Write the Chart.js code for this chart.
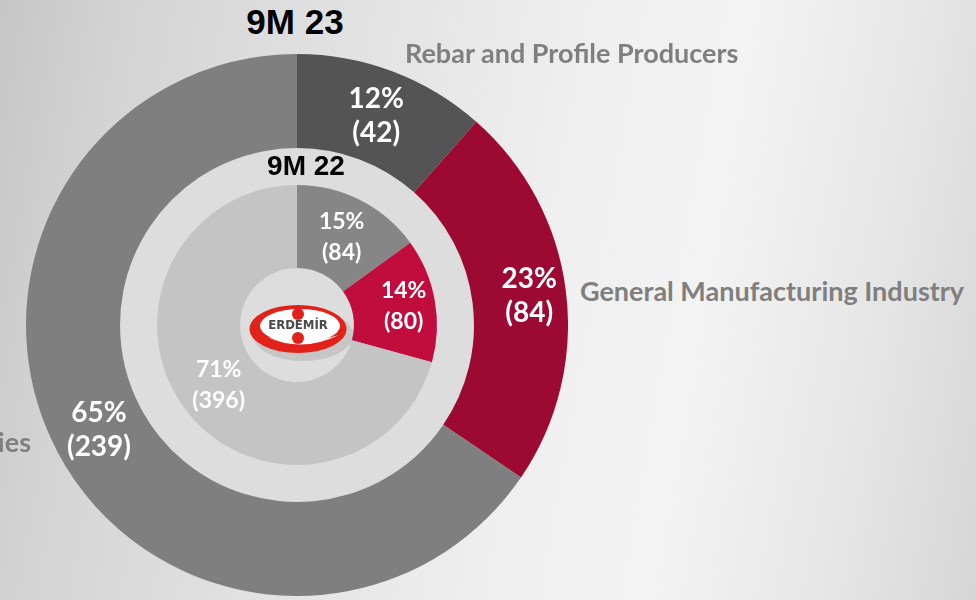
<!DOCTYPE html>
<html>
<head>
<meta charset="utf-8">
<script src="https://cdn.jsdelivr.net/npm/chart.js@4.4.1/dist/chart.umd.min.js"></script>
<style>
  html, body { margin: 0; padding: 0; }
  body {
    width: 976px; height: 600px; overflow: hidden; position: relative;
    background: linear-gradient(100deg, #c6c6c6 0%, #d4d4d4 12%, #e3e3e3 35%, #efefef 55%, #f3f3f3 70%, #e6e6e6 86%, #d6d6d6 100%);
  }
  #wrap { position: absolute; left: 26px; top: 54px; width: 542px; height: 542px; }
  .title { position: absolute; font-family: "Liberation Sans", Arial, sans-serif; font-weight: bold; color: #000; white-space: nowrap; transform: translate(-50%, -50%); }
  .cat { position: absolute; font-family: Lato, "Open Sans", sans-serif; font-weight: bold; color: #7f7f7f; white-space: nowrap; font-size: 27px; transform: translateY(-50%); }
</style>
</head>
<body>
<div id="wrap"><canvas id="c" width="542" height="542"></canvas></div>
<div class="title" style="left:295px; top:22px; font-size:35px;">9M 23</div>
<div class="title" style="left:306px; top:166px; font-size:28px;">9M 22</div>
<div class="cat" style="left:405px; top:52px;" id="cat0"></div>
<div class="cat" style="left:580px; top:290px;" id="cat1"></div>
<div class="cat" style="right:945px; top:441px;" id="cat2"></div>
<script>
// ---- data ----
const categories = ["Rebar and Profile Producers", "General Manufacturing Industry", "Other Industries"];
const values9M23 = [42, 84, 239];
const values9M22 = [84, 80, 396];
const periodLabels = ["9M 23", "9M 22"];

// ---- styles ----
const colors9M23 = ["#545454", "#9c0a33", "#7f7f7f"];
const colors9M22 = ["#868686", "#c00d3e", "#c4c4c4"];
const labelOffsets = [[0, 10, 0], [0, 10, 0]]; // radial nudge of value labels (px)

document.getElementById('cat0').textContent = categories[0];
document.getElementById('cat1').textContent = categories[1];
document.getElementById('cat2').textContent = categories[2];

const bandPlugin = {
  id: 'band',
  beforeDatasetsDraw(chart) {
    const arc = chart.getDatasetMeta(1).data[0];
    if (!arc) return;
    const ctx = chart.ctx;
    ctx.save();
    ctx.fillStyle = '#dddddd';
    ctx.beginPath();
    ctx.arc(arc.x, arc.y, arc.outerRadius, 0, Math.PI * 2);
    ctx.fill();
    ctx.restore();
  }
};

const labelPlugin = {
  id: 'vals',
  afterDatasetsDraw(chart) {
    const ctx = chart.ctx;
    [[0, 0, 28, 34], [2, 1, 23, 31]].forEach(([di, oi, fs, lh]) => {
      const ds = chart.data.datasets[di];
      const total = ds.data.reduce((a, b) => a + b, 0);
      chart.getDatasetMeta(di).data.forEach((arc, i) => {
        const mid = (arc.startAngle + arc.endAngle) / 2;
        const r = (arc.innerRadius + arc.outerRadius) / 2 + labelOffsets[oi][i];
        const x = arc.x + Math.cos(mid) * r;
        const y = arc.y + Math.sin(mid) * r;
        ctx.save();
        ctx.fillStyle = '#ffffff';
        ctx.font = 'bold ' + fs + 'px Lato, "Open Sans", sans-serif';
        ctx.textAlign = 'center';
        ctx.textBaseline = 'middle';
        const pct = Math.round(ds.data[i] / total * 100) + '%';
        ctx.fillText(pct, x, y - lh / 2);
        ctx.fillText('(' + ds.data[i] + ')', x, y + lh / 2);
        ctx.restore();
      });
    });
  }
};

const logoPlugin = {
  id: 'logo',
  afterDraw(chart) {
    const arc = chart.getDatasetMeta(2).data[0];
    if (!arc) return;
    const ctx = chart.ctx;
    const cx = arc.x, cy = arc.y;
    ctx.save();
    // soft shadow
    ctx.fillStyle = 'rgba(0,0,0,0.10)';
    ctx.beginPath();
    ctx.ellipse(cx + 6, cy + 10, 50, 26, 0, 0, Math.PI * 2);
    ctx.fill();
    // outer red ellipse
    ctx.fillStyle = '#e3211b';
    ctx.beginPath();
    ctx.ellipse(cx + 1, cy + 4, 48.5, 24, 0, 0, Math.PI * 2);
    ctx.fill();
    // white inner ellipse
    ctx.fillStyle = '#ffffff';
    ctx.beginPath();
    ctx.ellipse(cx + 3, cy + 1, 40, 17, 0, 0, Math.PI * 2);
    ctx.fill();
    // white swoosh crescent
    ctx.beginPath();
    ctx.moveTo(cx - 30, cy + 12);
    ctx.quadraticCurveTo(cx + 5, cy + 28, cx + 42, cy + 10);
    ctx.quadraticCurveTo(cx + 5, cy + 22, cx - 30, cy + 12);
    ctx.fill();
    // dots
    ctx.fillStyle = '#e3211b';
    ctx.beginPath(); ctx.arc(cx + 1, cy - 11, 6, 0, Math.PI * 2); ctx.fill();
    ctx.beginPath(); ctx.arc(cx + 1, cy + 13, 6, 0, Math.PI * 2); ctx.fill();
    // text
    ctx.fillStyle = '#4a4a4a';
    ctx.font = 'bold 13px "DejaVu Sans Condensed", "DejaVu Sans", sans-serif';
    ctx.textAlign = 'center';
    ctx.textBaseline = 'middle';
    ctx.fillText('ERDEMİR', cx + 1, cy + 1);
    ctx.restore();
  }
};

new Chart(document.getElementById('c'), {
  type: 'doughnut',
  data: {
    labels: categories,
    datasets: [
      { label: periodLabels[0], data: values9M23, backgroundColor: colors9M23, borderWidth: 0, weight: 94 },
      { label: 'gap', data: [1], backgroundColor: 'rgba(0,0,0,0)', borderWidth: 0, weight: 37 },
      { label: periodLabels[1], data: values9M22, backgroundColor: colors9M22, borderWidth: 0, weight: 83 }
    ]
  },
  options: {
    responsive: false,
    animation: false,
    cutout: '21%',
    layout: { padding: 0 },
    plugins: { legend: { display: false }, tooltip: { enabled: false } }
  },
  plugins: [bandPlugin, labelPlugin, logoPlugin]
});
</script>
</body>
</html>
